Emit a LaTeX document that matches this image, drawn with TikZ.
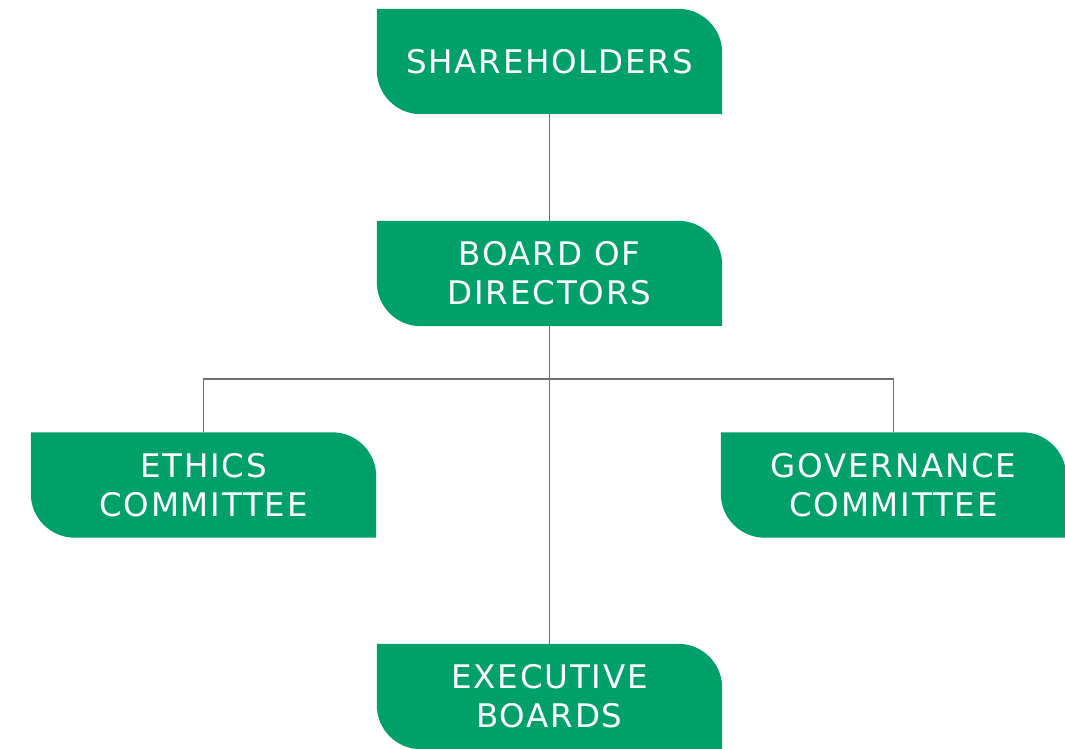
\documentclass[tikz,border=0pt]{standalone}
\usepackage{fontspec}
\setmainfont[LetterSpace=5.5]{DejaVu Sans}
\definecolor{boxgreen}{HTML}{00A06A}
\definecolor{linegray}{HTML}{707070}
\newcommand{\greenshape}[1]{%
  \fill[boxgreen] (#1.north west) -- ([xshift=-44pt]#1.north east)
    arc[start angle=90,end angle=0,radius=44pt] -- (#1.south east)
    -- ([xshift=44pt]#1.south west)
    arc[start angle=270,end angle=180,radius=44pt] -- cycle;}
\begin{document}
\begin{tikzpicture}[x=1pt,y=1pt,
  orgbox/.style={minimum width=345pt,minimum height=105pt,inner sep=0pt,
    text=white,align=center,font=\fontsize{32.5}{39}\selectfont},
  conn/.style={draw=linegray,line width=1.1pt}]
\fill[white] (0,0) rectangle (1065,748);
\useasboundingbox (0,0) rectangle (1065,748);
\clip (0,0) rectangle (1065,748);
\path
  (549.5,686.5) node[orgbox] (sh) {}
  (549.5,474.5) node[orgbox] (bd) {}
  (203.5,263) node[orgbox] (et) {}
  (893.5,263) node[orgbox] (go) {}
  (549.5,51.5) node[orgbox] (ex) {};
\coordinate (j) at (549.5,369);
\draw[conn] (sh.south) -- (bd.north);
\draw[conn] (bd.south) -- (ex.north);
\draw[conn] (et.north) |- (j) -| (go.north);
\greenshape{sh}\greenshape{bd}\greenshape{et}\greenshape{go}\greenshape{ex}
\node[orgbox] at (sh) {SHAREHOLDERS};
\node[orgbox] at (bd) {BOARD OF\\DIRECTORS};
\node[orgbox] at (et) {ETHICS\\COMMITTEE};
\node[orgbox] at (go) {GOVERNANCE\\COMMITTEE};
\node[orgbox] at (ex) {EXECUTIVE\\BOARDS};
\end{tikzpicture}
\end{document}
